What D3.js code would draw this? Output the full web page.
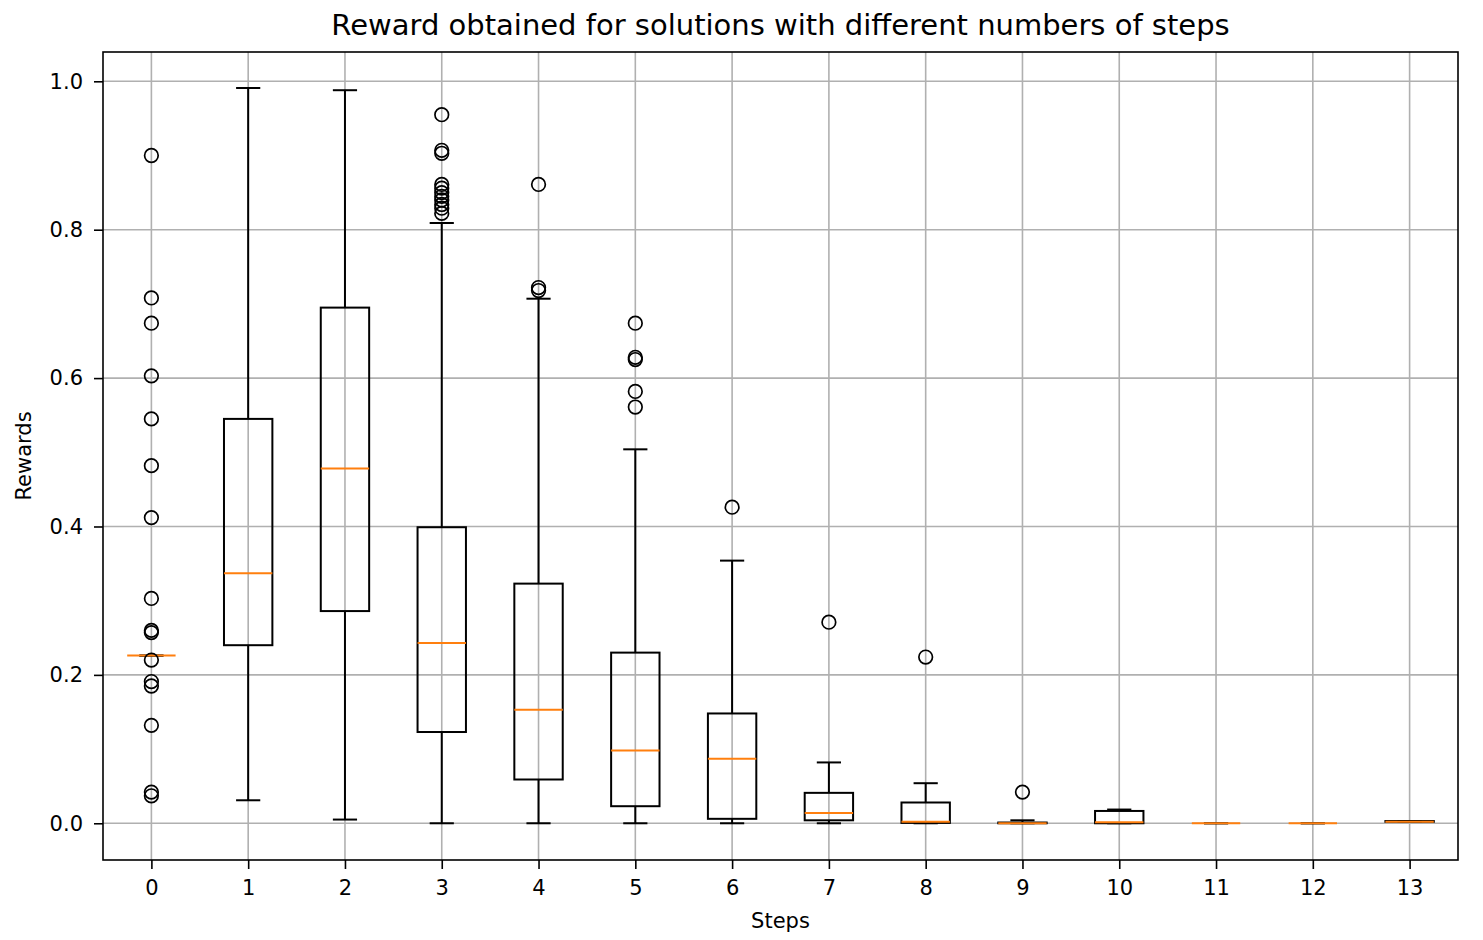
<!DOCTYPE html>
<html>
<head>
<meta charset="utf-8">
<script src="https://cdn.jsdelivr.net/npm/d3@7"></script>
<style>
  body { margin: 0; background: #fff; }
  text { font-family: "DejaVu Sans", sans-serif; fill: #000; }
</style>
</head>
<body>
<div id="chart"></div>
<script>
// Box statistics, one entry per step count
const steps = [0, 1, 2, 3, 4, 5, 6, 7, 8, 9, 10, 11, 12, 13];
const q1 = [0.226, 0.240, 0.286, 0.123, 0.059, 0.023, 0.006, 0.004, 0.0005, 0.0, 0.0, 0.0, 0.0, 0.002];
const medians = [0.226, 0.337, 0.478, 0.243, 0.153, 0.098, 0.087, 0.014, 0.002, 0.0, 0.0013, 0.0, 0.0, 0.002];
const q3 = [0.226, 0.545, 0.695, 0.399, 0.323, 0.230, 0.148, 0.041, 0.028, 0.001, 0.0166, 0.0, 0.0, 0.003];
const whiskerLow = [0.226, 0.031, 0.005, 0.0, 0.0, 0.0, 0.0, 0.0, 0.0, 0.0, 0.0, 0.0, 0.0, 0.002];
const whiskerHigh = [0.226, 0.991, 0.988, 0.809, 0.707, 0.504, 0.354, 0.082, 0.054, 0.004, 0.0185, 0.0, 0.0, 0.003];
const outliers = [
  [0.900, 0.708, 0.674, 0.603, 0.545, 0.482, 0.412, 0.303, 0.260, 0.257, 0.220, 0.191, 0.185, 0.132, 0.042, 0.037],
  [],
  [],
  [0.955, 0.907, 0.903, 0.861, 0.856, 0.850, 0.845, 0.840, 0.834, 0.829, 0.822],
  [0.861, 0.722, 0.718],
  [0.674, 0.628, 0.625, 0.582, 0.561],
  [0.426],
  [0.271],
  [0.224],
  [0.042],
  [],
  [],
  [],
  []
];
const yTicks = [0.0, 0.2, 0.4, 0.6, 0.8, 1.0];

const W = 1483, H = 940;
const plot = {left: 103, right: 1458, top: 52, bottom: 860};

const svg = d3.select("#chart").append("svg")
  .attr("width", W).attr("height", H);

const x = d3.scaleLinear().domain([-0.5, 13.5]).range([plot.left, plot.right]);
const y = d3.scaleLinear().domain([-0.0495, 1.0395]).range([plot.bottom, plot.top]);

const boxW = x(0.25) - x(0);   // half box width
const capW = x(0.125) - x(0);  // half cap width

// grid
const grid = svg.append("g");
grid.selectAll(".gx").data(steps).join("line")
  .attr("x1", d => x(d)).attr("x2", d => x(d))
  .attr("y1", plot.top).attr("y2", plot.bottom)
  .attr("stroke", "#b0b0b0").attr("stroke-width", 1.6);
grid.selectAll(".gy").data(yTicks).join("line")
  .attr("x1", plot.left).attr("x2", plot.right)
  .attr("y1", d => y(d)).attr("y2", d => y(d))
  .attr("stroke", "#b0b0b0").attr("stroke-width", 1.6);

// boxes
const boxes = svg.append("g");
steps.forEach((s, i) => {
  const g = boxes.append("g");
  const cx = x(s);
  // whiskers
  g.append("line").attr("x1", cx).attr("x2", cx)
    .attr("y1", y(q1[i])).attr("y2", y(whiskerLow[i]))
    .attr("stroke", "#000").attr("stroke-width", 2);
  g.append("line").attr("x1", cx).attr("x2", cx)
    .attr("y1", y(q3[i])).attr("y2", y(whiskerHigh[i]))
    .attr("stroke", "#000").attr("stroke-width", 2);
  // caps
  [whiskerLow[i], whiskerHigh[i]].forEach(v => {
    g.append("line").attr("x1", cx - capW).attr("x2", cx + capW)
      .attr("y1", y(v)).attr("y2", y(v))
      .attr("stroke", "#000").attr("stroke-width", 2);
  });
  // box
  g.append("rect")
    .attr("x", cx - boxW).attr("width", 2 * boxW)
    .attr("y", y(q3[i])).attr("height", Math.max(0, y(q1[i]) - y(q3[i])))
    .attr("fill", "none").attr("stroke", "#000").attr("stroke-width", 2);
  // median
  g.append("line").attr("x1", cx - boxW).attr("x2", cx + boxW)
    .attr("y1", y(medians[i])).attr("y2", y(medians[i]))
    .attr("stroke", "#ff7f0e").attr("stroke-width", 2);
  // fliers
  g.selectAll("circle").data(outliers[i]).join("circle")
    .attr("cx", cx).attr("cy", d => y(d)).attr("r", 6.8)
    .attr("fill", "none").attr("stroke", "#000").attr("stroke-width", 1.7);
});

// axes
const xAxis = svg.append("g")
  .attr("transform", `translate(0,${plot.bottom})`)
  .call(d3.axisBottom(x).tickValues(steps).tickFormat(d3.format("d")).tickSize(9).tickPadding(11).tickSizeOuter(0));
const yAxis = svg.append("g")
  .attr("transform", `translate(${plot.left},0)`)
  .call(d3.axisLeft(y).tickValues(yTicks).tickFormat(d3.format(".1f")).tickSize(9).tickPadding(11).tickSizeOuter(0));
[xAxis, yAxis].forEach(a => {
  a.select(".domain").remove();
  a.selectAll(".tick line").attr("stroke", "#000").attr("stroke-width", 1.6);
  a.selectAll(".tick text").style("font-size", "21px").style("font-family", "DejaVu Sans, sans-serif").attr("fill", "#000");
});

// frame
svg.append("rect")
  .attr("x", plot.left).attr("y", plot.top)
  .attr("width", plot.right - plot.left).attr("height", plot.bottom - plot.top)
  .attr("fill", "none").attr("stroke", "#000").attr("stroke-width", 1.6);

// labels
svg.append("text")
  .attr("x", (plot.left + plot.right) / 2).attr("y", 35)
  .attr("text-anchor", "middle").style("font-size", "29px")
  .text("Reward obtained for solutions with different numbers of steps");
svg.append("text")
  .attr("x", (plot.left + plot.right) / 2).attr("y", 928)
  .attr("text-anchor", "middle").style("font-size", "21px")
  .text("Steps");
svg.append("text")
  .attr("transform", `translate(31,${(plot.top + plot.bottom) / 2}) rotate(-90)`)
  .attr("text-anchor", "middle").style("font-size", "21px")
  .text("Rewards");
</script>
</body>
</html>
